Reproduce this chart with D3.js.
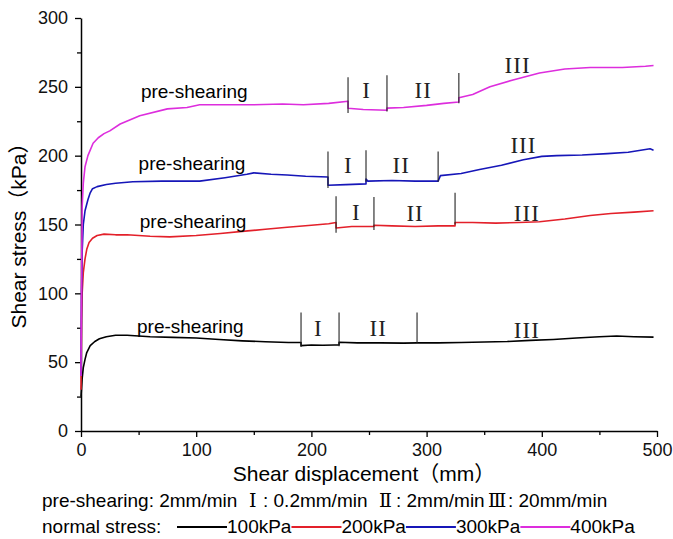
<!DOCTYPE html>
<meta charset="utf-8">
<script src="https://d3js.org/d3.v7.js"></script>
<style>
  body { margin: 0; background: #fff; }
  text { font-family: "Liberation Sans", Arial, "Noto Sans CJK SC", sans-serif; }
</style>
<div id="my_dataviz"></div>
<script>

// curves: [shear displacement (mm), shear stress (kPa)]
var stress100 = [[0,25],[1,38],[2,46],[3.5,52],[5,57],[8,62],[12,65],[16,67],[22,68.5],[30,69.5],[40,69.5],[50,69],
  [60,68.5],[80,68],[100,67.5],[120,66.5],[140,65.5],[160,64.8],[180,64.3],[191,64.3],[191,62],[200,62.5],[210,62.3],
  [220,62.5],[224,62.5],[224,64.5],[240,64],[260,64],[280,63.8],[292,64],[310,64],[330,64.3],[350,64.6],[370,65],
  [390,65.8],[410,66.5],[430,67.5],[450,68.5],[465,69],[480,68.5],[497,68.2]];
var stress200 = [[0,30],[0.5,80],[1,100],[2,115],[3.5,125],[5,132],[7,137],[10,140],[14,142],[20,143],[30,142.5],
  [40,142.5],[60,141.5],[77,141],[100,142],[121,143.5],[140,145],[160,146.5],[179,148],[200,149.5],[215,150.5],
  [221.4,151.5],[221.4,147.5],[235,148.5],[254.3,148.5],[254.3,149.5],[270,149],[290,148.5],[310,149],[324.7,149],
  [324.7,151.5],[340,151.5],[360,151],[380,151.5],[398,152],[420,154],[442,156.5],[460,158],[480,159],[497,160]];
var stress300 = [[0,40],[0.5,100],[1,130],[2,150],[3.5,160],[6,168],[8,173],[10,176],[14,177.5],[22,179],[30,180],
  [45,181],[70,181.5],[103,181.5],[125,184],[144,186.5],[150,187.5],[165,186.5],[179,186],[195,185],[214.4,184.5],
  [214.4,178.5],[230,179],[247.4,179.5],[247.4,183],[249,181.5],[270,182],[290,181.5],[310,181.5],[312,185.5],
  [330,187],[346,190],[365,193],[384,197],[400,199.5],[413,200],[435,200.5],[457,201.5],[475,202.5],[494,205],[497,204]];
var stress400 = [[0,40],[0.3,90],[0.7,130],[1,163],[2,180],[3.5,192],[6,200],[10.5,209],[15,213],[20,216],[25,218],
  [34,223],[51,229],[75,234],[92,235],[103,237],[130,237],[150,237],[175,237.5],[193,237],[215,238],[231.8,239.5],
  [231.8,234.5],[245,233.5],[265.6,233],[265.6,234.5],[280,235],[300,236.5],[315,238],[328,239],[328,242],[340,244.5],
  [355,250],[375,255],[398,260],[420,263],[442,264],[470,264],[490,265],[497,265.5]];

// phase boundary marks: [displacement, bottom, top]
var marks100 = [[191,61,86],[224,61.5,86],[291.7,64,86]];
var marks200 = [[221.4,144,170.6],[254.3,146,170],[324.7,150,173]];
var marks300 = [[214.4,176.5,203],[247.4,181,204],[310,181,203]];
var marks400 = [[231.8,231,257],[265.6,232,258.5],[328,238,260]];

// phase labels: [displacement, stress, text]
var phases100 = [[206,74.8,"I"],[258,74.8,"II"],[387,73.3,"III"]];
var phases200 = [[239,159,"I"],[290,158.3,"II"],[387,158.3,"III"]];
var phases300 = [[232,193,"I"],[278,193,"II"],[384,207.7,"III"]];
var phases400 = [[248,247.6,"I"],[297,247.6,"II"],[379,265.8,"III"]];

// "pre-shearing" label anchors
var preLabels = [[48.6,71.2],[51,147.4],[50,189.5],[52,242]];

var seriesNames = ["100kPa","200kPa","300kPa","400kPa"];
var seriesColors = ["#000000","#e3202a","#1616b8","#dd2ddd"];
var xTicks = [0,100,200,300,400,500];
var yTicks = [0,50,100,150,200,250,300];

// shearing-rate legend pieces: [text, x, roman numeral?]
var rateParts = [["pre-shearing: 2mm/min", 42, false], ["Ⅰ", 249, true], [": 0.2mm/min", 263, false],
  ["Ⅱ", 379, true], [": 2mm/min", 396, false], ["Ⅲ", 488, true], [": 20mm/min", 508, false]];

var margin = {top: 18, right: 16, bottom: 108, left: 81},
    width = 576,
    height = 413;

var svg = d3.select("#my_dataviz")
  .append("svg")
    .attr("width", 673)
    .attr("height", 539);

var g = svg.append("g")
    .attr("transform", "translate(" + margin.left + "," + margin.top + ")");

var x = d3.scaleLinear().domain([0, 500]).range([0, width]);
var y = d3.scaleLinear().domain([0, 300]).range([height, 0]);

// minor ticks
g.append("g")
  .attr("transform", "translate(0," + height + ")")
  .call(d3.axisBottom(x).tickValues(d3.range(50, 500, 100)).tickSize(4).tickFormat(""))
  .call(s => s.select(".domain").remove());
g.append("g")
  .call(d3.axisLeft(y).tickValues(d3.range(25, 300, 50)).tickSize(4).tickFormat(""))
  .call(s => s.select(".domain").remove());

// main axes
g.append("g")
  .attr("transform", "translate(0," + height + ")")
  .call(d3.axisBottom(x).tickValues(xTicks).tickSize(6).tickPadding(6).tickSizeOuter(0));
g.append("g")
  .call(d3.axisLeft(y).tickValues(yTicks).tickSize(6).tickPadding(7).tickSizeOuter(0));

g.selectAll(".tick line").attr("stroke", "#000").attr("stroke-width", 1.3);
g.selectAll(".domain").attr("stroke", "#000").attr("stroke-width", 1.5);
g.selectAll(".tick text").attr("font-size", 18).attr("fill", "#111")
  .style("font-family", "'Liberation Sans', Arial, sans-serif");

// curves
var line = d3.line().x(d => x(d[0])).y(d => y(d[1]));
var curves = [stress100, stress200, stress300, stress400];
g.selectAll(".curve")
  .data(curves)
  .enter()
  .append("path")
    .attr("class", "curve")
    .attr("d", line)
    .attr("fill", "none")
    .attr("stroke", (d, i) => seriesColors[i])
    .attr("stroke-width", 1.6)
    .attr("stroke-linejoin", "round");

// phase marks
var allMarks = [].concat(marks100, marks200, marks300, marks400);
g.selectAll(".mark")
  .data(allMarks)
  .enter()
  .append("line")
    .attr("x1", d => x(d[0])).attr("x2", d => x(d[0]))
    .attr("y1", d => y(d[1])).attr("y2", d => y(d[2]))
    .attr("stroke", "#222")
    .attr("stroke-width", 1.1);

// phase labels
var allPhases = [].concat(phases100, phases200, phases300, phases400);
g.selectAll(".phase")
  .data(allPhases)
  .enter()
  .append("text")
    .attr("x", d => x(d[0]))
    .attr("y", d => y(d[1]))
    .attr("text-anchor", "middle")
    .attr("dominant-baseline", "central")
    .attr("font-size", 23)
    .attr("letter-spacing", 1)
    .style("font-family", "'Liberation Serif', 'Times New Roman', serif")
    .attr("fill", "#222")
    .text(d => d[2]);

// pre-shearing labels
g.selectAll(".pre")
  .data(preLabels)
  .enter()
  .append("text")
    .attr("x", d => x(d[0]))
    .attr("y", d => y(d[1]))
    .attr("font-size", 19)
    .attr("fill", "#000")
    .text("pre-shearing");

// axis titles
svg.append("text")
  .attr("x", margin.left + width / 2 - 5)
  .attr("y", 481)
  .attr("text-anchor", "middle")
  .attr("font-size", 21)
  .text("Shear displacement（mm）");

svg.append("text")
  .attr("transform", "translate(26," + (margin.top + height / 2 + 6) + ") rotate(-90)")
  .attr("text-anchor", "middle")
  .attr("font-size", 21)
  .text("Shear stress（kPa）");

// rate legend
svg.append("g").selectAll("text")
  .data(rateParts)
  .enter()
  .append("text")
    .attr("x", d => d[1])
    .attr("y", 507)
    .attr("font-size", 19)
    .style("font-family", d => d[2] ? "'DejaVu Serif', 'Liberation Serif', serif" : null)
    .text(d => d[0]);

// normal stress legend
var leg = svg.append("g");
leg.append("text")
  .attr("x", 42)
  .attr("y", 533)
  .attr("font-size", 19)
  .text("normal stress:");
var lx = 177;
seriesNames.forEach(function (name, i) {
  leg.append("line")
    .attr("x1", lx).attr("x2", lx + 50)
    .attr("y1", 527).attr("y2", 527)
    .attr("stroke", seriesColors[i])
    .attr("stroke-width", 2);
  var t = leg.append("text")
    .attr("x", lx + 50)
    .attr("y", 533)
    .attr("font-size", 19)
    .text(name);
  lx = lx + 50 + t.node().getComputedTextLength();
});

</script>
